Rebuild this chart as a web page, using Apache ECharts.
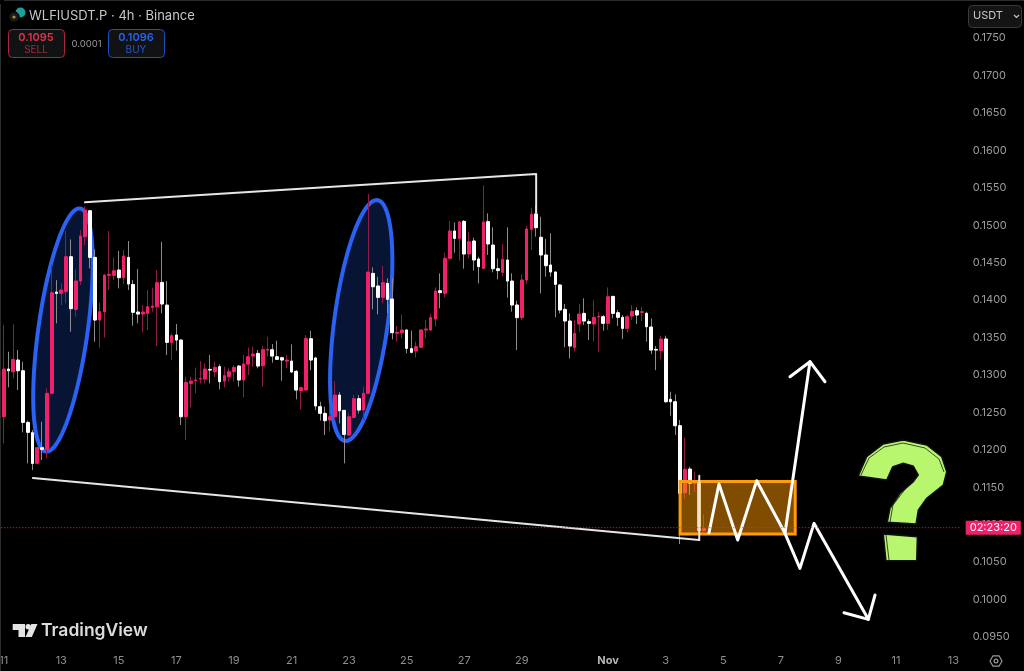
<!DOCTYPE html>
<html><head><meta charset="utf-8">
<style>html,body{margin:0;padding:0;background:#000}#c{width:1024px;height:671px}</style>
<script src="https://cdn.jsdelivr.net/npm/echarts@6/dist/echarts.min.js"></script>
</head><body><div id="c"></div>
<script>
const opens=[.12442,.13079,.13043,.13199,.13056,.12366,.12228,.11819,.12028,.12006,.12754,.14107,.14089,.14112,.14579,.13876,.14254,.14846,.15193,.1457,.13733,.13844,.1433,.1433,.14401,.14299,.1457,.14209,.1384,.13813,.13822,.13902,.13911,.14236,.13933,.13435,.13533,.13466,.12442,.12887,.12923,.12945,.12945,.13074,.13043,.1311,.12918,.12976,.13043,.13119,.12932,.13145,.13252,.13288,.13123,.13332,.13337,.13243,.1323,.13185,.13185,.13048,.12789,.12798,.13484,.13226,.12576,.12487,.12398,.12442,.12731,.12527,.12197,.12433,.12683,.12531,.12754,.14356,.14188,.14036,.14223,.14014,.13556,.13564,.136,.13351,.1332,.13369,.136,.136,.13747,.14125,.1409,.14557,.14922,.14824,.15051,.14615,.14789,.14548,.14424,.15047,.14735,.14419,.1437,.14535,.14254,.13934,.13765,.14268,.14945,.1515,.14838,.14602,.14468,.14375,.14201,.13876,.1372,.13368,.1368,.13822,.13711,.1368,.13773,.13778,.13689,.14049,.13831,.13769,.13622,.13787,.13858,.13836,.13822,.1364,.13341,.13324,.1348,.12674,.12642,.12322,.11427,.11743,.11552,.11587,.1092];
const closes=[.13079,.13056,.13208,.13056,.12366,.12233,.11819,.12028,.12006,.12754,.14098,.14089,.14134,.14579,.13885,.14254,.14855,.15202,.1457,.13733,.13844,.14334,.14343,.14392,.14299,.14588,.14214,.13836,.13813,.1384,.13911,.1392,.14232,.13947,.13435,.13524,.13466,.12442,.129,.12918,.12932,.12954,.13079,.13065,.13101,.1291,.1299,.13043,.13101,.12932,.13145,.13243,.13279,.13119,.13337,.13341,.13252,.13208,.13199,.13199,.13039,.12798,.1283,.13488,.13199,.12585,.12487,.12389,.12442,.12731,.12522,.12206,.12442,.12683,.12531,.12754,.14374,.14178,.14036,.14232,.1401,.13564,.13569,.136,.13355,.13302,.13377,.136,.13613,.13765,.14121,.14099,.14557,.14922,.14824,.15042,.14615,.1478,.14535,.14446,.15042,.14749,.14419,.14393,.14544,.14254,.13934,.13765,.14268,.14949,.15145,.14967,.14602,.14459,.14375,.1421,.13867,.1372,.13386,.13555,.13813,.1372,.13689,.13769,.13782,.13689,.14045,.13822,.13769,.13622,.13778,.13849,.138,.13844,.13644,.13332,.13332,.1348,.12642,.12642,.12322,.11418,.11739,.11552,.11587,.1092,.10951];
const highs=[.13666,.1331,.13675,.13332,.13177,.12389,.12264,.12041,.12375,.1282,.14468,.14267,.14223,.14922,.1481,.1441,.14935,.15256,.15202,.14677,.13965,.14343,.14922,.1457,.14655,.14668,.14788,.14267,.14414,.13933,.14134,.14165,.14401,.14779,.14254,.13555,.1368,.13475,.12976,.12976,.13097,.13185,.13154,.13266,.13177,.13141,.1311,.13088,.13132,.13132,.13266,.13364,.13377,.13332,.1339,.1351,.13413,.13457,.13243,.13266,.13408,.13065,.12843,.13533,.1359,.13243,.12642,.12576,.12576,.12918,.12771,.12531,.12487,.12731,.12731,.12843,.15416,.14437,.14312,.14455,.1429,.1429,.13653,.13809,.13609,.13591,.13444,.13609,.13733,.13814,.1417,.14357,.14633,.15056,.15038,.15056,.15069,.14913,.14833,.14579,.15532,.15158,.14971,.14557,.14749,.14971,.14357,.13992,.14344,.14989,.15234,.1527,.15114,.14815,.14891,.1438,.14214,.13947,.13822,.13733,.13947,.14023,.13742,.14,.13844,.138,.14169,.14058,.13867,.138,.138,.13934,.13902,.13911,.13844,.13755,.13386,.13524,.13524,.12776,.1274,.12397,.12162,.11774,.11708,.11654,.11138];
const lows=[.12086,.12834,.12954,.12798,.12233,.11819,.1173,.1181,.11863,.11886,.12745,.13689,.13933,.13956,.13577,.13778,.14201,.14735,.14423,.13444,.13364,.13497,.14134,.14267,.14156,.14214,.14134,.13657,.13689,.13568,.13599,.13844,.13386,.13822,.13266,.13199,.13324,.12331,.1213,.12567,.12754,.12887,.12887,.12887,.12976,.12807,.12834,.1291,.1291,.12843,.127,.12999,.1311,.13088,.12843,.13243,.13163,.13199,.12923,.13088,.1303,.12674,.1254,.12789,.13065,.12531,.12389,.12197,.12242,.12398,.12353,.11819,.12184,.1242,.12487,.12398,.12745,.13876,.13809,.13956,.13823,.13475,.13444,.13489,.13288,.13288,.13231,.1336,.13489,.13587,.13645,.13889,.14036,.14544,.14633,.14526,.14419,.14557,.14393,.14223,.14419,.14602,.1437,.14277,.14321,.14032,.13845,.13333,.13733,.14214,.14669,.14847,.1409,.14312,.14312,.13769,.13822,.13368,.13221,.1331,.13577,.13666,.13466,.13444,.1331,.13591,.136,.13755,.13653,.13479,.13568,.13733,.1368,.1372,.13444,.13279,.13065,.13208,.12629,.12455,.12197,.10741,.11351,.11396,.1144,.10862,.10906];

const categoryCount=200;
const tickIndex=[0,12,24,36,48,60,72,84,96,108,126,138,150,162,174,186,198];
const tickLabels=['11','13','15','17','19','21','23','25','27','29','Nov','3','5','7','9','11','13'];
const lastPrice=0.1096, countdown='02:23:20';
const priceMin=0.095, priceMax=0.175, priceStep=0.005;

// annotations: [candle index, price]
const upperTrend=[[16.95,.15305],[111,.15683],[111,.15162]];
const lowerTrend=[[6.1,.11623],[145,.10795],[145,.11654]];
const zigzag=[[147.03,.10893],[149.11,.11543],[153.01,.10795],[156.97,.11587],[162.87,.10885],[168.08,.13177]];
const upHead=[[163.92,.12976],[168.08,.13177],[171.21,.12909]];
const downPath=[[162.87,.10885],[165.99,.10417],[168.92,.11018],[180.24,.09736]];
const downHead=[[175.17,.09824],[180.24,.09736],[181.64,.10061]];
const rangeBox=[[141,.11577,165,.10875]];
// centre idx, centre price, major-end idx, major-end price, minor-end idx, minor-end price
const ellipses=[[12.36,.136,15.91,.15224,17.45,.13554],[74.53,.13727,77.92,.15335,80.07,.13679]];

const categories=Array.from({length:categoryCount},(_,i)=>String(i));
const ohlc=opens.map((o,i)=>[o,closes[i],lows[i],highs[i]]);
const bodies=opens.map((o,i)=>[o,closes[i],Math.min(o,closes[i]),Math.max(o,closes[i])]);
const PINK='#f0206a';

const polyline=(name,data,w,color)=>({name,type:'line',xAxisIndex:1,yAxisIndex:0,data,symbol:'none',silent:true,z:6,clip:false,
  lineStyle:{width:w,color:color||'#fff',join:'round',cap:'round'},animation:false});

const font='Inter, "Liberation Sans", sans-serif';
const t=(x,y,text,fontSize,fill,extra)=>({type:'text',x,y,silent:true,z:50,style:Object.assign({text,fontSize,fill,fontFamily:font,verticalAlign:'middle'},extra||{})});
const box=(x,y,w,h,stroke,fill)=>({type:'rect',silent:true,z:49,shape:{x:x+.5,y:y+.5,width:w,height:h,r:4},style:{fill,stroke,lineWidth:1}});

const qMark=[[858.3,476],[866.7,456.7],[883.3,444],[903.3,440],[926.7,445],[941.7,456.7],[946.7,471.7],[943.3,485],[926.7,498.3],[918.3,510],[916,524],[887.3,522.3],[890,508.3],[900,493.3],[913.3,481.7],[918.3,475],[913.3,466],[903.3,463.3],[892.7,466.7],[886.7,480]];
const qDot=[[883.3,534],[917.3,536.7],[916.7,560.7],[886,560.7]];
const GREEN='#b8f76d';
const graphics=[
 {type:'line',silent:true,z:48,shape:{x1:.5,y1:4,x2:.5,y2:671},style:{stroke:'#2c2c2c',lineWidth:1}},
 {type:'line',silent:true,z:48,shape:{x1:4,y1:.5,x2:1024,y2:.5},style:{stroke:'#2c2c2c',lineWidth:1}},
 {type:'circle',silent:true,z:50,shape:{cx:20.5,cy:12.5,r:5},style:{fill:'#1f9e9a'}},
 {type:'circle',silent:true,z:51,shape:{cx:14,cy:17,r:5.2},style:{fill:'#1a1a1a',stroke:'#000',lineWidth:1}},
 {type:'circle',silent:true,z:52,shape:{cx:14,cy:17,r:1.6},style:{fill:'#b08d3c'}},
 t(29,16,'WLFIUSDT.P · 4h · Binance',13,'#c6c6c6'),
 box(8,29,56,28,'#a9283c','#111214'),
 t(36,38,'0.1095',11,'#e0344c',{align:'center',fontWeight:600}),
 t(36,50,'SELL',10,'#a5283c',{align:'center'}),
 t(86.5,44,'0.0001',9.5,'#9a9a9a',{align:'center'}),
 box(108,29,56,28,'#1f4fc0','#111214'),
 t(136,38,'0.1096',11,'#2962ee',{align:'center',fontWeight:600}),
 t(136,50,'BUY',10,'#2456c8',{align:'center'}),
 box(968,5,53,22,'#3a3a3a','#141414'),
 t(973,16,'USDT',11,'#c8c8c8'),
 {type:'polyline',silent:true,z:50,shape:{points:[[1014,15],[1016.5,17.5],[1019,15]]},style:{stroke:'#c8c8c8',lineWidth:1.2,fill:null}},
 {type:'polygon',silent:true,z:20,shape:{points:qMark},style:{fill:GREEN,stroke:'#111',lineWidth:1.4}},
 {type:'polygon',silent:true,z:20,shape:{points:qDot},style:{fill:GREEN,stroke:'#111',lineWidth:1.4}},
 {type:'polyline',silent:true,z:21,shape:{points:[[861,475],[869,458],[884,447],[903,443],[925,448],[939,459],[944,472]]},style:{stroke:'#1a1a1a',lineWidth:.8,fill:null}},
 {type:'polyline',silent:true,z:21,shape:{points:[[886,535],[889,560]]},style:{stroke:'#1a1a1a',lineWidth:.8,fill:null}},
 {type:'polyline',silent:true,z:21,shape:{points:[[890,522],[893,505],[906,488]]},style:{stroke:'#1a1a1a',lineWidth:.8,fill:null}},
 {type:'polygon',silent:true,z:50,shape:{points:[[12.7,624],[25,624],[25,637],[18.5,637],[18.5,630],[12.7,630]]},style:{fill:'#e4e4e4'}},
 {type:'circle',silent:true,z:50,shape:{cx:28.2,cy:626.8,r:2.7},style:{fill:'#e4e4e4'}},
 {type:'polygon',silent:true,z:50,shape:{points:[[31.3,624],[37.5,624],[31.8,637],[25.5,637]]},style:{fill:'#e4e4e4'}},
 t(41,631,'TradingView',17.5,'#dcdcdc',{fontWeight:600}),
 {type:'polygon',silent:true,z:50,shape:{points:[[990,661],[993,655.8],[999,655.8],[1002,661],[999,666.2],[993,666.2]]},style:{fill:null,stroke:'#9a9a9a',lineWidth:1.2}},
 {type:'circle',silent:true,z:50,shape:{cx:996,cy:661,r:1.9},style:{fill:null,stroke:'#9a9a9a',lineWidth:1.2}}
];

const chart=echarts.init(document.getElementById('c'),null,{renderer:'canvas'});
chart.setOption({
 animation:false,backgroundColor:'#000',
 grid:{left:1.3,width:959.4,top:38,height:599,containLabel:false,outerBoundsMode:'none'},
 xAxis:[{type:'category',data:categories,boundaryGap:true,axisLine:{show:false},axisTick:{show:false},splitLine:{show:false},
   axisLabel:{margin:18,fontSize:11,color:'#8f8f8f',fontFamily:font,hideOverlap:false,showMinLabel:true,
     interval:i=>tickIndex.includes(+i),
     formatter:v=>{const k=tickIndex.indexOf(+v);if(k<0)return '';const s=tickLabels[k];return s==='Nov'?'{b|Nov}':s;},
     rich:{b:{fontWeight:700,color:'#b8b8b8',fontSize:11,fontFamily:font}}}},
   {type:'value',min:-0.5,max:categoryCount-0.5,show:false}],
 yAxis:{type:'value',position:'right',min:priceMin,max:priceMax,interval:priceStep,scale:true,axisLine:{show:false},axisTick:{show:false},splitLine:{show:false},
   axisLabel:{margin:12,fontSize:11,color:'#9c9c9c',fontFamily:font,padding:[2,0,0,0],formatter:v=>v.toFixed(4)}},
 series:[
  {name:'ellipses',type:'custom',xAxisIndex:1,yAxisIndex:0,data:ellipses,z:1,silent:true,clip:false,
   encode:{x:[0,2,4],y:[1,3,5]},
   renderItem:(p,api)=>{
     const c=api.coord([api.value(0),api.value(1)]),m=api.coord([api.value(2),api.value(3)]),n=api.coord([api.value(4),api.value(5)]);
     const pts=[];for(let k=0;k<96;k++){const a=k/96*2*Math.PI;pts.push([c[0]+Math.cos(a)*(m[0]-c[0])+Math.sin(a)*(n[0]-c[0]),c[1]+Math.cos(a)*(m[1]-c[1])+Math.sin(a)*(n[1]-c[1])]);}
     return {type:'polygon',shape:{points:pts},style:{fill:'rgba(41,98,255,0.2)',stroke:'#2a62f4',lineWidth:4}};
   }},
  {name:'wicks',type:'candlestick',barWidth:1.5,data:ohlc,z:2,silent:true,
   itemStyle:{color:'#8e1c48',color0:'#8c8c8c',borderColor:'#8e1c48',borderColor0:'#8c8c8c',borderWidth:1}},
  {name:'bodies',type:'candlestick',barWidth:3.2,data:bodies,z:3,silent:true,
   itemStyle:{color:PINK,color0:'#ffffff',borderColor:PINK,borderColor0:'#ffffff',borderWidth:1}},
  {name:'lastPrice',type:'line',xAxisIndex:1,yAxisIndex:0,data:[[-0.5,lastPrice],[categoryCount-0.5,lastPrice]],symbol:'none',silent:true,z:7,clip:false,
   lineStyle:{type:[1,2],color:'#f0206a',width:1,opacity:1},
   endLabel:{show:true,distance:5,formatter:countdown,color:'#fff',fontSize:11,fontFamily:font,backgroundColor:PINK,padding:[2,4,1,4],borderRadius:1}},
  polyline('upper',upperTrend,2,'#e6e6e6'),
  polyline('lower',lowerTrend,2,'#e6e6e6'),
  {name:'range',type:'custom',xAxisIndex:1,yAxisIndex:0,data:rangeBox,z:5,silent:true,clip:false,
   encode:{x:[0,2],y:[1,3]},
   renderItem:(p,api)=>{
     const a=api.coord([api.value(0),api.value(1)]),b=api.coord([api.value(2),api.value(3)]);
     return {type:'rect',shape:{x:a[0],y:a[1],width:b[0]-a[0],height:b[1]-a[1]},style:{fill:'rgba(255,152,0,0.5)',stroke:'#ff9c0a',lineWidth:3}};
   }},
  polyline('zigzag',zigzag,3),
  polyline('upHead',upHead,3),
  polyline('downPath',downPath,3),
  polyline('downHead',downHead,3)
 ],
 graphic:graphics
});
</script></body></html>
